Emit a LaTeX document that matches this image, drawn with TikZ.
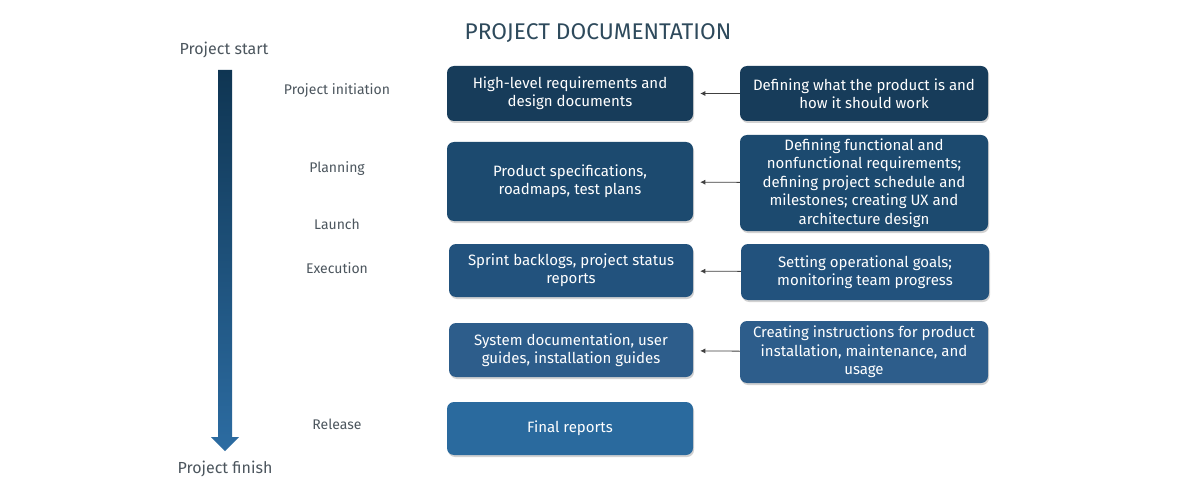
\documentclass[tikz,border=0pt]{standalone}
\usepackage{fontspec}
\setmainfont{Fira Sans}
\usetikzlibrary{positioning,shadows,arrows.meta}
\tikzset{>={Latex[width=1.8mm,length=1.8mm]}}
\definecolor{titlec}{HTML}{2E4A5C}
\definecolor{labelc}{HTML}{4C565E}
\definecolor{boxa}{HTML}{173C5A}
\definecolor{boxb}{HTML}{1C4A6F}
\definecolor{boxc}{HTML}{22527D}
\definecolor{boxd}{HTML}{2D5D8B}
\definecolor{boxe}{HTML}{2A6A9E}
\definecolor{arrtop}{HTML}{0F3552}
\definecolor{arrbot}{HTML}{2C6CA2}
\begin{document}
\begin{tikzpicture}[x=1pt,y=-1pt]
          \tikzstyle{docnode} = [rounded corners=7pt, text=white, align=center, inner sep=0pt, font=\fontsize{15}{18.4}\selectfont, drop shadow={opacity=0.35, shadow xshift=1pt, shadow yshift=-2pt}]
          \tikzstyle{stagenode} = [text=labelc, font=\fontsize{14}{16}\selectfont]
          \tikzstyle{endnode} = [text=labelc, font=\fontsize{16}{18}\selectfont]

          \useasboundingbox[fill=white] (0,0) rectangle (1200,500);

          \node[text=titlec, font=\fontsize{22.7}{26}\selectfont] (title) at (598,33) {PROJECT DOCUMENTATION};

          % time line
          \node[endnode] (start) at (224,50) {Project start};
          \node[endnode] (finish) at (225,469) {Project finish};
          \shade[top color=arrtop, bottom color=arrbot] (218,70) -- (232,70) -- (232,437) -- (239,437) -- (225,451) -- (211,437) -- (218,437) -- cycle;

          \node[stagenode] (initiation) at (337,91) {Project initiation};
          \node[stagenode] (planning) at (337,169) {Planning};
          \node[stagenode] (launch) at (337,224) {Launch};
          \node[stagenode] (execution) at (337,268) {Execution};
          \node[stagenode] (release) at (337,424) {Release};

          % documents
          \node[docnode, fill=boxa, minimum width=246pt, minimum height=55pt] (doc1) at (570,93.5) {High-level requirements and\\design documents};
          \node[docnode, fill=boxb, minimum width=246pt, minimum height=79pt] (doc2) at (570,181.5) {Product specifications,\\roadmaps, test plans};
          \node[docnode, fill=boxc, minimum width=244pt, minimum height=53pt] (doc3) at (571,270.5) {Sprint backlogs, project status\\reports};
          \node[docnode, fill=boxd, minimum width=244pt, minimum height=54pt] (doc4) at (571,350) {System documentation, user\\guides, installation guides};
          \node[docnode, fill=boxe, minimum width=246pt, minimum height=53pt] (doc5) at (570,428.5) {Final reports};

          % activities
          \node[docnode, fill=boxa, minimum width=248pt, minimum height=55pt] (act1) at (864,93.5) {Defining what the product is and\\how it should work};
          \node[docnode, fill=boxb, minimum width=248pt, minimum height=96pt] (act2) at (864,183) {Defining functional and\\nonfunctional requirements;\\defining project schedule and\\milestones; creating UX and\\architecture design};
          \node[docnode, fill=boxc, minimum width=248pt, minimum height=56pt] (act3) at (865,272) {Setting operational goals;\\monitoring team progress};
          \node[docnode, fill=boxd, minimum width=248pt, minimum height=62pt] (act4) at (864,352) {Creating instructions for product\\installation, maintenance, and\\usage};

          \draw[->, thick, black!75, shorten >=7pt] (act1) -- (doc1);
          \draw[->, thick, black!75, shorten >=7pt] (act2) -- (doc2);
          \draw[->, thick, black!75, shorten >=7pt] (act3) -- (doc3);
          \draw[->, thick, black!75, shorten >=7pt] (act4) -- (doc4);
        \end{tikzpicture}
\end{document}
